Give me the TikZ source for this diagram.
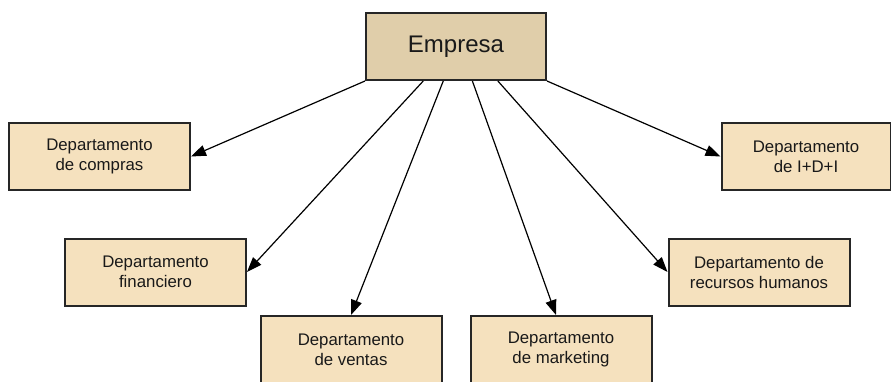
\documentclass[tikz,border=0pt]{standalone}
\usepackage{fontspec}
\setmainfont{Liberation Sans}
\usepackage{xcolor}
\usetikzlibrary{arrows.meta}
\usetikzlibrary{calc}
\usetikzlibrary{positioning}
\definecolor{empfill}{RGB}{224,206,170}
\definecolor{depfill}{RGB}{245,225,190}
\definecolor{txt}{RGB}{25,25,25}

\begin{document}
\begin{tikzpicture}[x=1pt,y=1pt,->,>={Triangle[length=15pt,width=11pt]},line width=1.2pt]
 				 \tikzstyle{empresa}=[draw=black!85, line width=2pt, fill=empfill, text=txt, minimum width=180pt, minimum height=67pt, font=\fontsize{24}{27}\selectfont]
 				 \tikzstyle{dep}=[draw=black!85, line width=2pt, fill=depfill, text=txt, minimum width=181pt, minimum height=67pt, align=center, font=\fontsize{16.8}{20}\selectfont]
 				 \useasboundingbox (0,0) rectangle (891,381);
 					 \node[empresa] (E)        at (456,334.5) {Empresa};
  					 \node[dep]     (compras)  at (99.5,224.5) {Departamento\\de compras};
  					 \node[dep, minimum width=169pt] (idi) at (806,224.5) {Departamento\\de I+D+I};
  					 \node[dep]     (fin)      at (155.5,109) {Departamento\\financiero};
  					 \node[dep]     (rrhh)     at (759,109) {Departamento de\\recursos humanos};
  					 \node[dep]     (ventas)   at (351,31.5) {Departamento\\de ventas};
  					 \node[dep]     (mark)     at (561,31.5) {Departamento\\de marketing};
 					 \path (E.south west) edge (compras.east)
 					 		 	($(E.south west)!0.32!(E.south east)$) edge (fin.east)
 					 			($(E.south west)!0.43!(E.south east)$) edge (ventas.north)
 					 			($(E.south west)!0.59!(E.south east)$) edge ($(mark.north)+(-5,0)$)
 					 			($(E.south west)!0.73!(E.south east)$) edge (rrhh.west)
 					 			(E.south east) edge (idi.west);
				\end{tikzpicture}
\end{document}
